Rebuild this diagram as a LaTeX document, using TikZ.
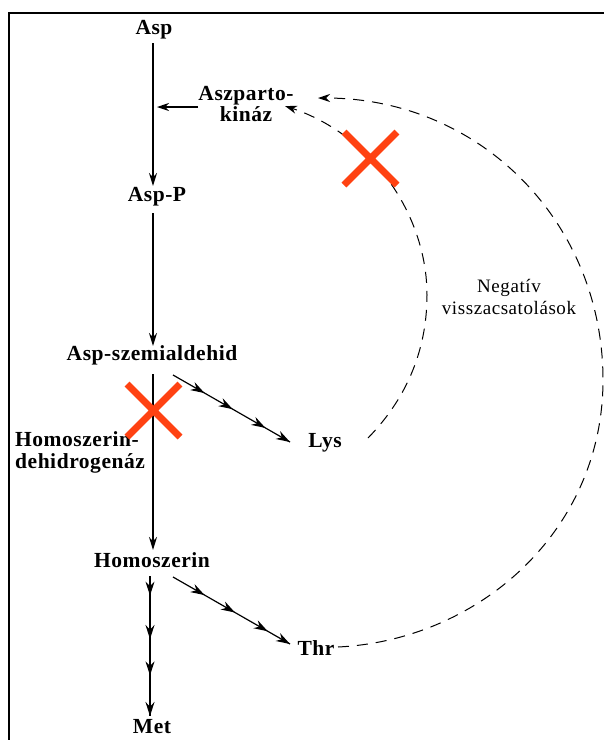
\documentclass[tikz,border=0pt]{standalone}
\usepackage{fontspec}
\setmainfont{Liberation Serif}
\newfontfamily\lblfont{Liberation Serif}[LetterSpace=2.5]
\newfontfamily\negfont{Liberation Serif}[LetterSpace=3]
\usetikzlibrary{arrows.meta,decorations.markings}
\definecolor{xred}{RGB}{255,66,18}
\begin{document}
\begin{tikzpicture}[x=1pt,y=-1pt,
  lbl/.style={font=\lblfont\bfseries\fontsize{21.5}{26}\selectfont, inner sep=2pt},
  neglbl/.style={font=\negfont\fontsize{19}{22}\selectfont, align=center, inner sep=1pt},
  mainarr/.style={line width=1.8pt, -{Stealth[length=13pt,width=8pt]}},
  sidearr/.style={line width=1.1pt, -{Stealth[length=12pt,width=8pt]}},
  chain/.style={line width=1.2pt, postaction={decorate}},
  fb/.style={line width=1pt, dash pattern=on 11pt off 8pt, -{Stealth[length=12pt,width=8pt,sep=0pt]}},
  cross/.style={xred, line width=7pt},
]
\useasboundingbox (0,0) rectangle (604,740);
\draw[line width=2pt] (9,740) -- (9,13) -- (604,13);

% nodes
\node[lbl] (asp) at (154,30) {Asp};
\node[lbl] (aspp) at (157,197) {Asp-P};
\node[lbl] (sza) at (152,355) {Asp-szemialdehid};
\node[lbl] (hom) at (152,560) {Homoszerin};
\node[lbl] (met) at (152,727) {Met};
\node[lbl] (lys) at (325,443) {Lys};
\node[lbl] (thr) at (316,648) {Thr};
\node[lbl, align=center] (ak) at (246,104) {Aszparto-\\[-5pt]kináz};
\node[lbl, align=left, anchor=west] (hd) at (13,452) {Homoszerin-\\[-4pt]dehidrogenáz};
\node[neglbl] (neg) at (509,297) {Negatív\\visszacsatolások};

% coordinates
\coordinate (a1) at (153,43);
\coordinate (a2) at (153,186);
\coordinate (b1) at (153,213);
\coordinate (b2) at (153,346);
\coordinate (c1) at (153,374);
\coordinate (c2) at (153,550);
\coordinate (akt) at (157,107);
\coordinate (akf) at (198,107);
\coordinate (s1) at (173,375);
\coordinate (s2) at (290,442);
\coordinate (h1) at (173,577);
\coordinate (h2) at (290,644);
\coordinate (m1) at (150,576);
\coordinate (m2) at (150,716);
\coordinate (l1) at (368,438);
\coordinate (l2) at (285,106);
\coordinate (t1) at (338,647);
\coordinate (t2) at (318,98);

% main pathway
\draw[mainarr] (a1) -- (a2);
\draw[mainarr] (b1) -- (b2);
\draw[mainarr] (c1) -- (c2);
\draw[sidearr] (akf) -- (akt);

% chained arrows
\draw[chain, decoration={markings,
  mark=at position 0.27 with {\arrow{Stealth[length=14pt,width=9pt]}},
  mark=at position 0.51 with {\arrow{Stealth[length=14pt,width=9pt]}},
  mark=at position 0.79 with {\arrow{Stealth[length=14pt,width=9pt]}},
  mark=at position 1 with {\arrow{Stealth[length=14pt,width=9pt]}}}] (s1) -- (s2);
\draw[chain, decoration={markings,
  mark=at position 0.27 with {\arrow{Stealth[length=14pt,width=9pt]}},
  mark=at position 0.53 with {\arrow{Stealth[length=14pt,width=9pt]}},
  mark=at position 0.81 with {\arrow{Stealth[length=14pt,width=9pt]}},
  mark=at position 1 with {\arrow{Stealth[length=14pt,width=9pt]}}}] (h1) -- (h2);
\draw[chain, decoration={markings,
  mark=at position 0.14 with {\arrow{Stealth[length=14pt,width=9pt]}},
  mark=at position 0.45 with {\arrow{Stealth[length=14pt,width=9pt]}},
  mark=at position 0.71 with {\arrow{Stealth[length=14pt,width=9pt]}},
  mark=at position 1 with {\arrow{Stealth[length=14pt,width=9pt]}}}] (m1) -- (m2);

% feedback
\draw[fb] (l1) .. controls (410,395) and (427,345) .. (427,295)
  .. controls (427,215) and (372,135) .. (l2);
\draw[fb] (t1) .. controls (480,640) and (603,530) .. (603,380)
  .. controls (603,222) and (480,98) .. (t2);

% crosses
\draw[cross] (127,384) -- (180,437) (127,437) -- (180,384);
\draw[cross] (344,132) -- (397,185) (344,185) -- (397,132);
\end{tikzpicture}
\end{document}
